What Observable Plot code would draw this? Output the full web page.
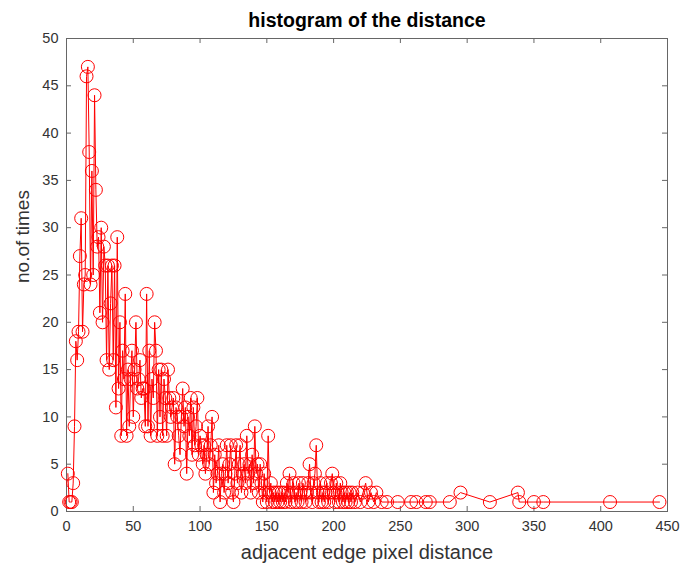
<!DOCTYPE html>
<html>
<head>
<meta charset="utf-8">
<script src="https://cdn.jsdelivr.net/npm/d3@7"></script>
<script src="https://cdn.jsdelivr.net/npm/@observablehq/plot@0.6"></script>
<style>
  html, body { margin: 0; padding: 0; background: #ffffff; }
  #chart svg { display: block; }
</style>
</head>
<body>
<div id="chart"></div>
<script>
const distance = [
  1,2,3,4,5,6,7,8,9,10,11,12,13,14,15,16,17,18,19,20,
  21,22,23,24,25,26,27,28,29,30,31,32,33,34,35,36,37,38,39,40,
  41,42,43,44,45,46,47,48,49,50,51,52,53,54,55,56,57,58,59,60,
  61,62,63,64,65,66,67,68,69,70,71,72,73,74,75,76,77,78,79,80,
  81,82,83,84,85,86,87,88,89,90,91,92,93,94,95,96,97,98,99,100,
  101,102,103,104,105,106,107,108,109,110,111,112,113,114,115,116,117,118,119,120,
  121,122,123,124,125,126,127,128,129,130,131,132,133,134,135,136,137,138,139,140,
  141,142,143,144,145,146,147,148,149,150,151,152,153,154,155,156,157,158,159,160,
  161,162,163,164,165,166,167,168,169,170,171,172,173,174,175,176,177,178,179,180,
  181,182,183,184,185,186,187,188,189,190,191,192,193,194,195,196,197,198,199,200,
  201,202,203,204,205,206,207,208,209,210,211,212,213,214,216,218,220,222,224,226,
  228,230,232,236,240,248,258,262,269,272,287,295,317,338,339,350,357,407,444
];
const times = [
  4,1,1,1,3,9,18,16,19,27,31,19,24,25,46,47,38,24,36,25,
  44,34,28,29,21,30,20,28,26,16,26,15,22,26,16,26,11,29,13,20,
  8,17,14,23,8,15,9,14,17,10,15,20,13,14,16,12,13,13,9,23,
  9,17,8,14,12,20,17,8,15,10,15,8,14,12,8,15,12,10,11,12,
  5,11,10,8,6,10,13,9,11,4,10,8,12,6,11,7,9,12,6,8,
  7,5,7,4,6,9,5,7,10,2,6,3,4,7,1,4,5,2,4,7,
  3,5,7,2,1,4,7,3,5,7,2,4,5,3,8,4,5,2,6,3,
  9,4,5,2,5,3,1,4,2,1,8,2,3,1,2,1,2,1,2,1,
  2,1,2,1,3,2,4,1,2,3,1,2,1,3,2,1,3,2,1,2,
  3,5,2,1,3,4,7,2,1,3,1,2,1,2,3,1,2,3,4,2,
  1,3,2,1,3,2,1,2,1,2,1,2,1,2,1,2,1,2,3,1,
  2,1,2,1,1,1,1,1,1,1,1,2,1,2,1,1,1,1,1
];
const xTicks = [0, 50, 100, 150, 200, 250, 300, 350, 400, 450];
const yTicks = [0, 5, 10, 15, 20, 25, 30, 35, 40, 45, 50];

const rows = distance.map((d, i) => ({distance: d, times: times[i]}));

const W = 681, H = 571;
const mL = 66, mR = 14, mT = 38, mB = 60;
const fw = W - mL - mR, fh = H - mT - mB;
const axisColor = "#666666";
const textColor = "#333333";
const font = "'Liberation Sans', Arial, Helvetica, sans-serif";

const chart = Plot.plot({
  width: W,
  height: H,
  marginLeft: mL,
  marginRight: mR,
  marginTop: mT,
  marginBottom: mB,
  style: {background: "#ffffff", fontFamily: font, overflow: "visible"},
  x: {domain: [0, 450], ticks: xTicks},
  y: {domain: [0, 50], ticks: yTicks},
  marks: [
    Plot.frame({stroke: axisColor, strokeWidth: 1}),
    Plot.tickX(xTicks, {x: d => d, insetTop: fh - 5, stroke: axisColor}),
    Plot.tickX(xTicks, {x: d => d, insetBottom: fh - 5, stroke: axisColor}),
    Plot.tickY(yTicks, {y: d => d, insetRight: fw - 5, stroke: axisColor}),
    Plot.tickY(yTicks, {y: d => d, insetLeft: fw - 5, stroke: axisColor}),
    Plot.axisX({ticks: xTicks, tickSize: 0, tickPadding: 9, fontSize: 14.5, color: textColor, label: null, fontFamily: font}),
    Plot.axisY({ticks: yTicks, tickSize: 0, tickPadding: 8, fontSize: 14.5, color: textColor, label: null, fontFamily: font}),
    Plot.line(rows, {x: "distance", y: "times", stroke: "#ff0000", strokeWidth: 1}),
    Plot.dot(rows, {x: "distance", y: "times", r: 6.5, stroke: "#ff0000", fill: "none", strokeWidth: 1}),
    Plot.text(["histogram of the distance"], {frameAnchor: "top", dy: -25, fontSize: 19.5, fontWeight: "bold", fill: "#000000", fontFamily: font}),
    Plot.text(["adjacent edge pixel distance"], {frameAnchor: "bottom", dy: 47, fontSize: 20, fill: textColor, fontFamily: font}),
    Plot.text(["no.of times"], {frameAnchor: "left", dx: -44, dy: 8, rotate: -90, fontSize: 19, fill: textColor, fontFamily: font})
  ]
});
document.getElementById("chart").appendChild(chart);
</script>
</body>
</html>
